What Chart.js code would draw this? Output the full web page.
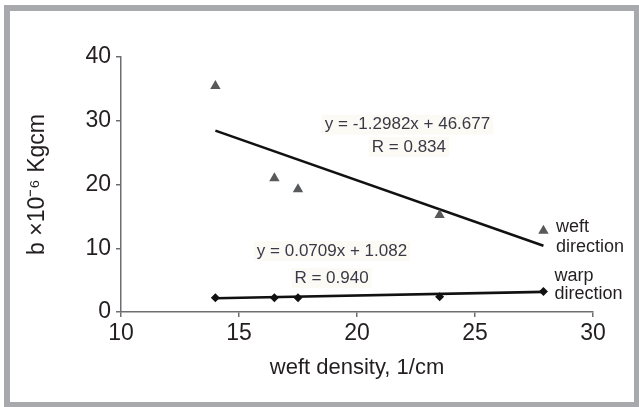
<!DOCTYPE html>
<html>
<head>
<meta charset="utf-8">
<script src="https://cdn.jsdelivr.net/npm/chart.js@4.4.0/dist/chart.umd.min.js"></script>
<style>
html,body{margin:0;padding:0;background:#fff;}
#c{display:block;}
</style>
</head>
<body>
<canvas id="c" width="639" height="407"></canvas>
<script>
// ---- data ----
const weftDensity = [14.0, 16.5, 17.5, 23.5, 27.9];
const weftDirB = [35.45, 20.97, 19.25, 15.2, 12.75];
const warpDirB = [2.24, 2.24, 2.24, 2.4, 3.2];
const trendX = [14.0, 27.9];
const weftTrendY = [28.45, 10.4];
const warpTrendY = [2.15, 3.15];
const xTicks = [10, 15, 20, 25, 30];
const yTicks = [0, 10, 20, 30, 40];
const weftEquation = ["y = -1.2982x + 46.677", "R = 0.834"];
const warpEquation = ["y = 0.0709x + 1.082", "R = 0.940"];
const weftLabel = ["weft", "direction"];
const warpLabel = ["warp", "direction"];

const toPts = (xs, ys) => xs.map((x, i) => ({x: x, y: ys[i]}));

const FONT = "'Liberation Sans', Arial, sans-serif";
const TXT = '#231f20';

const framePlugin = {
  id: 'frame',
  beforeDraw(chart) {
    const ctx = chart.ctx;
    ctx.save();
    ctx.fillStyle = '#ffffff';
    ctx.fillRect(0, 0, chart.width, chart.height);
    ctx.fillStyle = '#a7a9ac';
    ctx.fillRect(4, 5, 635, 402);
    ctx.fillStyle = '#ffffff';
    ctx.fillRect(10, 11, 624, 391);
    ctx.restore();
  }
};

const textPlugin = {
  id: 'texts',
  afterDatasetsDraw(chart) {
    const ctx = chart.ctx;
    const xs = chart.scales.x, ys = chart.scales.y;
    ctx.save();
    const eq = (lines, pos) => {
      ctx.font = '17px ' + FONT;
      ctx.textAlign = 'center';
      ctx.textBaseline = 'middle';
      lines.forEach((t, i) => {
        const px = xs.getPixelForValue(pos[i][0]);
        const py = ys.getPixelForValue(pos[i][1]);
        const w = ctx.measureText(t).width;
        ctx.fillStyle = 'rgba(250,247,236,0.6)';
        ctx.fillRect(px - w / 2 - 3, py - 10, w + 6, 20);
        ctx.fillStyle = '#3a3a46';
        ctx.fillText(t, px, py);
      });
    };
    eq(weftEquation, [[22.14, 29.4], [22.2, 25.9]]);
    eq(warpEquation, [[18.94, 9.55], [18.92, 5.3]]);
    ctx.font = '18px ' + FONT;
    ctx.textAlign = 'left';
    ctx.textBaseline = 'middle';
    ctx.fillStyle = TXT;
    const lbl = (lines, pos) => {
      lines.forEach((t, i) => {
        ctx.fillText(t, xs.getPixelForValue(pos[i][0]), ys.getPixelForValue(pos[i][1]));
      });
    };
    lbl(weftLabel, [[28.43, 13.4], [28.43, 10.25]]);
    lbl(warpLabel, [[28.37, 5.7], [28.37, 2.85]]);
    ctx.restore();
  }
};

new Chart(document.getElementById('c'), {
  type: 'scatter',
  data: {
    datasets: [
      {
        label: 'weft trend',
        data: toPts(trendX, weftTrendY),
        showLine: true,
        borderColor: '#111',
        borderWidth: 2.6,
        pointRadius: 0,
        order: 2
      },
      {
        label: 'warp trend',
        data: toPts(trendX, warpTrendY),
        showLine: true,
        borderColor: '#111',
        borderWidth: 2.6,
        pointRadius: 0,
        order: 2
      },
      {
        label: 'weft direction',
        data: toPts(weftDensity, weftDirB),
        pointStyle: 'triangle',
        pointRadius: 6,
        backgroundColor: '#58595b',
        borderColor: '#58595b',
        borderWidth: 0,
        order: 1
      },
      {
        label: 'warp direction',
        data: toPts(weftDensity, warpDirB),
        pointStyle: 'rectRot',
        pointRadius: 4.5,
        backgroundColor: '#111',
        borderColor: '#111',
        borderWidth: 0,
        order: 1
      }
    ]
  },
  options: {
    responsive: false,
    animation: false,
    devicePixelRatio: 1,
    layout: {padding: {left: 0, right: 46, top: 57, bottom: 0}},
    plugins: {legend: {display: false}, tooltip: {enabled: false}},
    scales: {
      x: {
        type: 'linear',
        min: 10, max: 30,
        afterBuildTicks: (s) => { s.ticks = xTicks.map(v => ({value: v})); },
        afterFit: (s) => { s.height = 95; },
        grid: {display: true, drawOnChartArea: false, drawTicks: true, tickLength: 5, color: '#6d6e71', lineWidth: 1.5},
        border: {display: true, color: '#6d6e71', width: 1.5},
        ticks: {font: {family: FONT, size: 23}, color: TXT, padding: 3, maxRotation: 0},
        title: {display: true, text: 'weft density, 1/cm', font: {family: FONT, size: 22}, color: TXT, padding: {top: 0, bottom: 26}}
      },
      y: {
        type: 'linear',
        min: 0, max: 40,
        afterBuildTicks: (s) => { s.ticks = yTicks.map(v => ({value: v})); },
        afterFit: (s) => { s.width = 121; },
        grid: {display: true, drawOnChartArea: false, drawTicks: true, tickLength: 5, color: '#6d6e71', lineWidth: 1.5},
        border: {display: true, color: '#6d6e71', width: 1.5},
        ticks: {font: {family: FONT, size: 23}, color: TXT, padding: 5},
        title: {display: true, text: 'b ×10⁻⁶ Kgcm', font: {family: FONT, size: 23}, color: TXT, padding: {top: 24, bottom: 0}}
      }
    }
  },
  plugins: [framePlugin, textPlugin]
});
</script>
</body>
</html>
